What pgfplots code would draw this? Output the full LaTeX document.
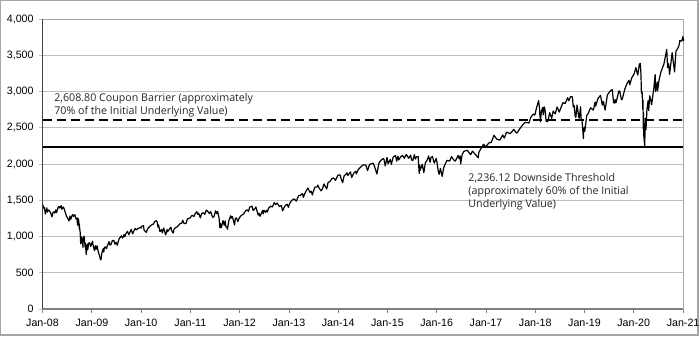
\documentclass[border=0pt]{standalone}
\usepackage{pgfplots}
\pgfplotsset{compat=1.18}
\usepgfplotslibrary{dateplot}
\usepackage{fontspec}
\setmainfont{Open Sans}
\newfontfamily\tickfont{Liberation Sans}
\definecolor{gridc}{HTML}{BFBFBF}
\definecolor{framec}{HTML}{A6A6A6}
\definecolor{axc}{HTML}{808080}
\definecolor{axl}{HTML}{404040}
\pgfplotstableread{
date val
2008-01-02 1447
2008-01-08 1390
2008-01-14 1401
2008-01-22 1310
2008-01-25 1330
2008-02-01 1395
2008-02-07 1336
2008-02-13 1367
2008-02-22 1353
2008-02-29 1331
2008-03-07 1294
2008-03-10 1273
2008-03-14 1288
2008-03-18 1330
2008-03-26 1341
2008-03-31 1322
2008-04-08 1366
2008-04-14 1329
2008-04-25 1398
2008-05-02 1414
2008-05-07 1392
2008-05-19 1426
2008-05-23 1375
2008-05-30 1400
2008-06-05 1404
2008-06-13 1360
2008-06-20 1318
2008-06-27 1278
2008-07-03 1262
2008-07-15 1214
2008-07-23 1282
2008-07-28 1235
2008-08-01 1260
2008-08-11 1305
2008-08-18 1278
2008-08-28 1300
2008-09-05 1242
2008-09-12 1252
2008-09-17 1157
2008-09-19 1255
2008-09-26 1213
2008-09-29 1106
2008-09-30 1166
2008-10-03 1099
2008-10-06 1057
2008-10-10 899
2008-10-13 1003
2008-10-15 908
2008-10-20 985
2008-10-27 848
2008-10-28 941
2008-11-04 1005
2008-11-12 852
2008-11-13 911
2008-11-20 752
2008-11-24 852
2008-11-28 896
2008-12-01 816
2008-12-08 909
2008-12-16 913
2008-12-23 863
2008-12-31 903
2009-01-06 935
2009-01-09 890
2009-01-20 805
2009-01-23 832
2009-01-28 874
2009-02-02 825
2009-02-09 870
2009-02-17 789
2009-02-20 770
2009-02-27 735
2009-03-05 683
2009-03-09 677
2009-03-17 778
2009-03-26 832
2009-03-30 787
2009-04-03 842
2009-04-09 857
2009-04-20 832
2009-04-24 866
2009-05-04 907
2009-05-08 929
2009-05-15 882
2009-05-22 887
2009-06-02 944
2009-06-12 946
2009-06-22 893
2009-06-30 919
2009-07-08 880
2009-07-17 940
2009-07-24 979
2009-07-31 987
2009-08-07 1010
2009-08-17 979
2009-08-28 1029
2009-09-02 995
2009-09-11 1042
2009-09-22 1072
2009-10-02 1025
2009-10-19 1098
2009-10-30 1036
2009-11-06 1069
2009-11-17 1110
2009-11-27 1092
2009-12-04 1106
2009-12-14 1114
2009-12-28 1128
2009-12-31 1115
2010-01-08 1145
2010-01-19 1150
2010-01-22 1092
2010-01-29 1074
2010-02-05 1066
2010-02-08 1056
2010-02-19 1109
2010-03-05 1138
2010-03-19 1160
2010-03-31 1169
2010-04-14 1211
2010-04-23 1217
2010-04-29 1206
2010-05-06 1128
2010-05-10 1160
2010-05-20 1071
2010-05-25 1074
2010-06-02 1098
2010-06-07 1050
2010-06-18 1117
2010-06-30 1031
2010-07-02 1022
2010-07-13 1095
2010-07-16 1065
2010-07-30 1102
2010-08-09 1128
2010-08-16 1080
2010-08-26 1047
2010-09-03 1105
2010-09-17 1125
2010-09-30 1141
2010-10-15 1176
2010-10-29 1183
2010-11-05 1225
2010-11-16 1178
2010-11-30 1181
2010-12-10 1240
2010-12-31 1258
2011-01-14 1293
2011-01-28 1276
2011-02-04 1310
2011-02-18 1343
2011-02-24 1306
2011-03-04 1321
2011-03-16 1257
2011-03-25 1314
2011-04-08 1328
2011-04-18 1305
2011-04-29 1364
2011-05-02 1361
2011-05-13 1338
2011-05-23 1317
2011-05-31 1345
2011-06-15 1266
2011-06-24 1268
2011-07-07 1354
2011-07-15 1316
2011-07-22 1346
2011-08-02 1254
2011-08-08 1119
2011-08-10 1120
2011-08-12 1179
2011-08-19 1124
2011-08-31 1219
2011-09-09 1154
2011-09-16 1216
2011-09-22 1129
2011-09-30 1131
2011-10-03 1099
2011-10-14 1225
2011-10-27 1285
2011-10-31 1253
2011-11-08 1276
2011-11-25 1159
2011-11-30 1247
2011-12-09 1255
2011-12-19 1206
2011-12-30 1258
2012-01-13 1289
2012-01-31 1312
2012-02-17 1361
2012-02-29 1366
2012-03-06 1343
2012-03-16 1404
2012-04-02 1419
2012-04-10 1358
2012-04-20 1379
2012-05-01 1406
2012-05-18 1295
2012-05-25 1318
2012-06-01 1278
2012-06-19 1357
2012-06-25 1313
2012-06-29 1362
2012-07-12 1334
2012-07-20 1363
2012-07-25 1338
2012-08-03 1391
2012-08-17 1418
2012-08-31 1407
2012-09-14 1466
2012-09-25 1441
2012-10-05 1461
2012-10-23 1413
2012-11-06 1428
2012-11-15 1353
2012-11-30 1416
2012-12-18 1447
2012-12-28 1402
2012-12-31 1426
2013-01-11 1472
2013-01-25 1503
2013-02-08 1518
2013-02-25 1488
2013-03-14 1563
2013-03-28 1569
2013-04-11 1593
2013-04-18 1541
2013-04-30 1598
2013-05-10 1633
2013-05-21 1669
2013-05-31 1631
2013-06-05 1609
2013-06-14 1626
2013-06-24 1573
2013-06-28 1606
2013-07-12 1680
2013-07-31 1686
2013-08-02 1709
2013-08-15 1661
2013-08-27 1630
2013-09-06 1655
2013-09-18 1725
2013-10-08 1655
2013-10-18 1745
2013-10-31 1757
2013-11-15 1798
2013-11-29 1806
2013-12-12 1775
2013-12-31 1848
2014-01-15 1848
2014-01-24 1790
2014-02-03 1742
2014-02-14 1838
2014-02-28 1859
2014-03-07 1878
2014-03-14 1841
2014-04-02 1891
2014-04-11 1815
2014-04-30 1884
2014-05-13 1897
2014-05-15 1862
2014-05-30 1924
2014-06-20 1963
2014-07-03 1985
2014-07-24 1988
2014-08-07 1909
2014-08-21 1992
2014-09-02 2002
2014-09-18 2011
2014-10-01 1946
2014-10-15 1862
2014-10-31 2018
2014-11-21 2064
2014-12-05 2075
2014-12-16 1973
2014-12-29 2091
2015-01-06 2003
2015-01-22 2063
2015-01-30 1995
2015-02-13 2097
2015-03-02 2117
2015-03-11 2040
2015-03-20 2108
2015-03-26 2056
2015-04-10 2102
2015-04-24 2117
2015-05-06 2080
2015-05-21 2131
2015-06-08 2080
2015-06-22 2122
2015-06-29 2058
2015-07-08 2047
2015-07-20 2129
2015-07-27 2068
2015-08-05 2100
2015-08-17 2102
2015-08-21 1971
2015-08-25 1868
2015-08-27 1988
2015-09-01 1914
2015-09-16 1996
2015-09-28 1882
2015-10-09 2015
2015-10-22 2052
2015-11-03 2110
2015-11-13 2023
2015-11-20 2089
2015-12-01 2103
2015-12-14 2012
2015-12-29 2078
2016-01-04 2013
2016-01-15 1880
2016-01-20 1859
2016-01-29 1940
2016-02-11 1829
2016-02-22 1946
2016-03-04 1999
2016-03-18 2050
2016-04-07 2041
2016-04-20 2102
2016-05-06 2057
2016-05-19 2040
2016-06-08 2119
2016-06-16 2071
2016-06-23 2113
2016-06-27 2001
2016-07-08 2130
2016-07-20 2173
2016-08-15 2190
2016-09-09 2128
2016-09-22 2177
2016-10-14 2133
2016-11-04 2085
2016-11-09 2163
2016-11-25 2213
2016-12-13 2272
2016-12-30 2239
2017-01-26 2297
2017-02-08 2295
2017-03-01 2396
2017-03-21 2344
2017-04-13 2329
2017-05-05 2399
2017-05-17 2357
2017-06-02 2439
2017-06-29 2419
2017-07-26 2477
2017-08-10 2438
2017-08-18 2426
2017-09-12 2496
2017-10-05 2552
2017-10-20 2575
2017-11-15 2565
2017-11-30 2648
2017-12-18 2690
2017-12-29 2674
2018-01-12 2786
2018-01-26 2873
2018-02-02 2762
2018-02-05 2649
2018-02-06 2695
2018-02-08 2581
2018-02-16 2732
2018-02-26 2780
2018-03-01 2678
2018-03-09 2786
2018-03-13 2765
2018-03-23 2588
2018-03-27 2613
2018-04-02 2582
2018-04-06 2604
2018-04-18 2708
2018-05-03 2630
2018-05-14 2730
2018-05-29 2690
2018-06-12 2787
2018-06-28 2716
2018-07-17 2809
2018-07-25 2846
2018-08-10 2833
2018-08-29 2914
2018-09-07 2872
2018-09-20 2931
2018-10-03 2926
2018-10-10 2785
2018-10-17 2809
2018-10-24 2656
2018-10-29 2641
2018-11-07 2814
2018-11-20 2642
2018-11-23 2633
2018-12-03 2790
2018-12-07 2633
2018-12-14 2600
2018-12-24 2351
2018-12-26 2468
2018-12-31 2507
2019-01-03 2448
2019-01-18 2671
2019-01-31 2704
2019-02-15 2776
2019-03-08 2743
2019-03-21 2855
2019-03-25 2798
2019-04-12 2907
2019-04-30 2946
2019-05-13 2812
2019-05-21 2864
2019-06-03 2744
2019-06-20 2954
2019-07-15 3014
2019-07-26 3026
2019-08-05 2845
2019-08-14 2840
2019-08-16 2889
2019-08-23 2847
2019-09-13 3007
2019-09-19 3006
2019-10-02 2888
2019-10-08 2893
2019-10-28 3039
2019-11-15 3120
2019-11-27 3154
2019-12-03 3093
2019-12-18 3191
2019-12-31 3231
2020-01-03 3235
2020-01-17 3330
2020-01-31 3226
2020-02-12 3379
2020-02-19 3386
2020-02-24 3226
2020-02-27 2979
2020-03-03 3003
2020-03-09 2747
2020-03-10 2882
2020-03-12 2481
2020-03-13 2711
2020-03-16 2386
2020-03-20 2305
2020-03-23 2237
2020-03-26 2630
2020-04-01 2471
2020-04-08 2750
2020-04-17 2875
2020-04-21 2737
2020-04-29 2940
2020-05-13 2820
2020-05-29 3044
2020-06-08 3232
2020-06-11 3002
2020-06-23 3131
2020-06-26 3009
2020-07-08 3169
2020-07-22 3276
2020-08-12 3380
2020-09-02 3580
2020-09-08 3332
2020-09-16 3385
2020-09-23 3237
2020-10-12 3535
2020-10-30 3270
2020-11-09 3551
2020-11-30 3622
2020-12-08 3702
2020-12-21 3694
2020-12-31 3756
2021-01-04 3701
2021-01-05 3727
}\spx
\begin{document}
\begin{tikzpicture}
\useasboundingbox (0,0) rectangle (525pt,253.5pt);
\draw[framec, line width=0.8pt] (0.4pt,2.25pt) rectangle (523.5pt,253.1pt);
\begin{axis}[
  at={(31.9pt,21.75pt)}, anchor=south west,
  scale only axis, width=480.4pt, height=217.5pt,
  date coordinates in=x,
  xmin=2008-01-01, xmax=2021-01-01,
  ymin=0, ymax=4000,
  xtick={2008-01-01,2009-01-01,2010-01-01,2011-01-01,2012-01-01,2013-01-01,2014-01-01,2015-01-01,2016-01-01,2017-01-01,2018-01-01,2019-01-01,2020-01-01,2021-01-01},
  xticklabels={Jan-08,Jan-09,Jan-10,Jan-11,Jan-12,Jan-13,Jan-14,Jan-15,Jan-16,Jan-17,Jan-18,Jan-19,Jan-20,Jan-21},
  ytick={0,500,...,4000},
  scaled y ticks=false,
  yticklabel={\pgfmathprintnumber[fixed,precision=0,1000 sep={,},assume math mode=true]{\tick}},
  ymajorgrids, grid style={gridc, line width=0.6pt},
  axis line style={framec, line width=0.6pt},
  x tick style={axc, line width=0.6pt},
  y tick style={gridc, line width=0.6pt},
  major tick length=3pt,
  tick align=outside,
  xtick pos=bottom, ytick pos=left,
  ticklabel style={font=\tickfont\fontsize{8}{9}\selectfont, text=black},
  xticklabel style={inner sep=0pt, anchor=north, yshift=-4.5pt},
  yticklabel style={inner sep=0pt, anchor=east, xshift=-3.5pt},
  clip=false,
]
\addplot[black, line width=0.9pt, line join=round] table[x=date, y=val] {\spx};
\addplot[black, line width=1.5pt, dash pattern=on 6.75pt off 3.75pt] coordinates {(2008-01-01,2608.8) (2021-01-01,2608.8)};
\addplot[black, line width=1.3pt] coordinates {(2008-01-01,2236.12) (2021-01-01,2236.12)};
\draw[axc, line width=0.8pt] (rel axis cs:0,0) -- (rel axis cs:1,0);
\draw[axl, line width=0.8pt] (rel axis cs:0,0) -- (rel axis cs:0,1);
\node[anchor=base west, inner sep=0pt, align=left, font=\fontsize{8}{9}\selectfont, text=black!85]
  at (rel axis cs:0.018,0.6724) {2,608.80 Coupon Barrier (approximately\\70\% of the Initial Underlying Value)};
\node[anchor=base west, inner sep=0pt, align=left, font=\fontsize{8}{10}\selectfont, text=black!85]
  at (rel axis cs:0.6645,0.3483) {2,236.12 Downside Threshold\\(approximately 60\% of the Initial\\Underlying Value)};
\end{axis}
\end{tikzpicture}
\end{document}
